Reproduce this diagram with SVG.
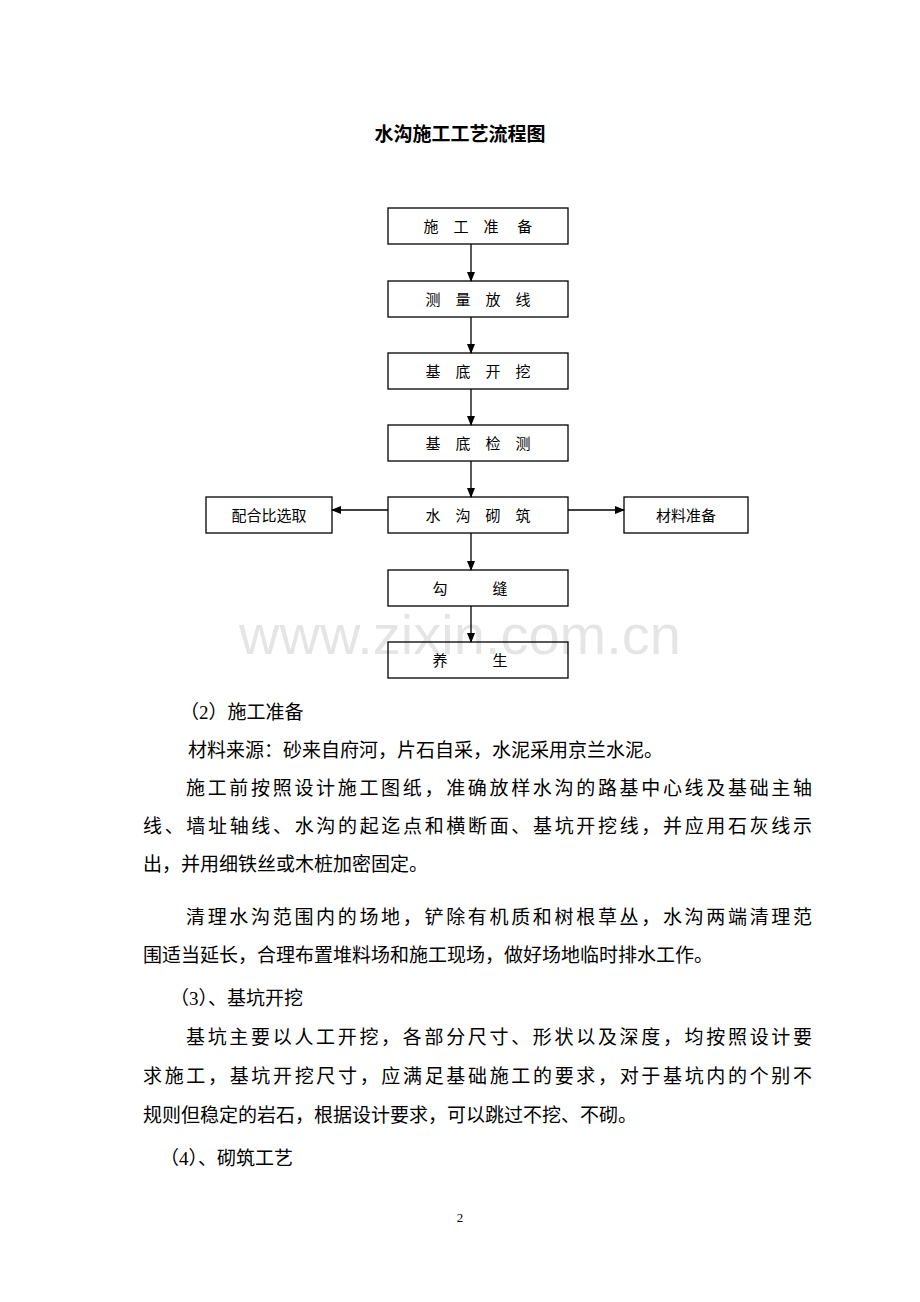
<svg xmlns="http://www.w3.org/2000/svg" width="920" height="1302" viewBox="0 0 920 1302">
<style>
.b{fill:#fff;stroke:#000;stroke-width:1.3}
.t{font-family:"Liberation Serif","Noto Sans CJK SC",serif;font-size:15px;text-anchor:middle}
.p{font-family:"Liberation Serif","Noto Sans CJK SC",serif;font-size:19px}
.c{stroke:#000;stroke-width:1.3;fill:none;marker-end:url(#a)}
</style>
<defs><marker id="a" markerWidth="10" markerHeight="8" refX="9" refY="4" orient="auto" markerUnits="userSpaceOnUse"><path d="M0,0 L10,4 L0,8 z"/></marker></defs>
<rect width="920" height="1302" fill="#fff"/>
<text x="460" y="141" style="font-family:'Liberation Serif','Noto Sans CJK SC',serif;font-size:19px;font-weight:bold;text-anchor:middle">水沟施工工艺流程图</text>
<g id="n1"><rect class="b" x="388" y="208" width="180" height="36"/><text class="t" x="478" y="232">施　工　准　 备</text></g>
<g id="n2"><rect class="b" x="388" y="281" width="180" height="36"/><text class="t" x="478" y="305">测　量　放　线</text></g>
<g id="n3"><rect class="b" x="388" y="353" width="180" height="36"/><text class="t" x="478" y="377">基　底　开　挖</text></g>
<g id="n4"><rect class="b" x="388" y="425" width="180" height="36"/><text class="t" x="478" y="449">基　底　检　测</text></g>
<g id="n5"><rect class="b" x="388" y="497" width="180" height="36"/><text class="t" x="478" y="521">水　沟　砌　筑</text></g>
<g id="n6"><rect class="b" x="206" y="497" width="126" height="36"/><text class="t" x="269" y="521">配合比选取</text></g>
<g id="n7"><rect class="b" x="624" y="497" width="124" height="36"/><text class="t" x="686" y="521">材料准备</text></g>
<g id="n8"><rect class="b" x="388" y="570" width="180" height="36"/><text class="t" x="470" y="594">勾　　　缝</text></g>
<g id="n9"><rect class="b" x="388" y="642" width="180" height="36"/><text class="t" x="470" y="666">养　　　生</text></g>
<g id="connectors">
<line class="c" x1="471" y1="244" x2="471" y2="281"/>
<line class="c" x1="471" y1="317" x2="471" y2="353"/>
<line class="c" x1="471" y1="389" x2="471" y2="425"/>
<line class="c" x1="471" y1="461" x2="471" y2="497"/>
<line class="c" x1="388" y1="510" x2="332" y2="510"/>
<line class="c" x1="568" y1="510" x2="624" y2="510"/>
<line class="c" x1="471" y1="533" x2="471" y2="570"/>
<line class="c" x1="471" y1="606" x2="471" y2="642"/>
</g>
<text x="460" y="654" style="font-family:'Liberation Sans',sans-serif;font-size:56px;fill:#000;fill-opacity:0.1;text-anchor:middle">www.zixin.com.cn</text>
<g class="p">
<text x="180" y="719">（2）施工准备</text>
<text x="188" y="757">材料来源：砂来自府河，片石自采，水泥采用京兰水泥。</text>
<text x="186" y="795" textLength="626">施工前按照设计施工图纸，准确放样水沟的路基中心线及基础主轴</text>
<text x="143" y="833" textLength="669">线、墙址轴线、水沟的起迄点和横断面、基坑开挖线，并应用石灰线示</text>
<text x="143" y="871">出，并用细铁丝或木桩加密固定。</text>
<text x="186" y="924" textLength="626">清理水沟范围内的场地，铲除有机质和树根草丛，水沟两端清理范</text>
<text x="143" y="962">围适当延长，合理布置堆料场和施工现场，做好场地临时排水工作。</text>
<text x="170" y="1005">（3）、基坑开挖</text>
<text x="186" y="1044" textLength="626">基坑主要以人工开挖，各部分尺寸、形状以及深度，均按照设计要</text>
<text x="143" y="1083" textLength="669">求施工，基坑开挖尺寸，应满足基础施工的要求，对于基坑内的个别不</text>
<text x="143" y="1122">规则但稳定的岩石，根据设计要求，可以跳过不挖、不砌。</text>
<text x="160" y="1165">（4）、砌筑工艺</text>
</g>
<text x="460" y="1222" style="font-family:'Liberation Serif',serif;font-size:13px;text-anchor:middle">2</text>
</svg>
